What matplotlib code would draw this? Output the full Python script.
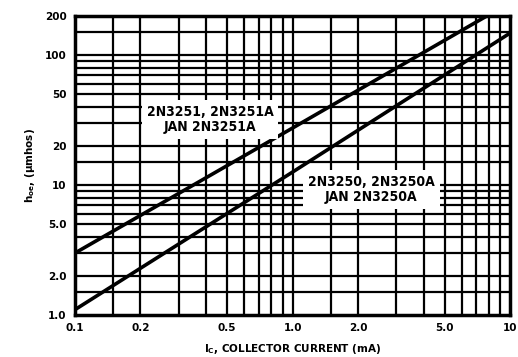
import matplotlib
matplotlib.use("Agg")
import matplotlib.pyplot as plt
from matplotlib import font_manager as fm
import numpy as np

# Data
ic_3251 = [0.1, 1.0, 7.8]
hoe_3251 = [3.0, 27.5, 200]
ic_3250 = [0.1, 1.0, 10.0]
hoe_3250 = [1.1, 12.6, 148]

label_3251 = "2N3251, 2N3251A\nJAN 2N3251A"
label_3250 = "2N3250, 2N3250A\nJAN 2N3250A"

x_ticks = [0.1, 0.2, 0.5, 1.0, 2.0, 5.0, 10]
x_tick_labels = ["0.1", "0.2", "0.5", "1.0", "2.0", "5.0", "10"]
y_ticks = [1, 2, 5, 10, 20, 50, 100, 200]
y_tick_labels = ["1.0", "2.0", "5.0", "10", "20", "50", "100", "200"]

x_grid = [0.15, 0.2, 0.3, 0.4, 0.5, 0.6, 0.7, 0.8, 0.9, 1.0, 1.5, 2, 3, 4, 5, 6, 7, 8, 9]
y_grid = [1.5, 2, 3, 4, 5, 6, 7, 8, 9, 10, 15, 20, 30, 40, 50, 60, 70, 80, 90, 100, 150]

names = {f.name for f in fm.fontManager.ttflist}
fam = "Liberation Sans Narrow" if "Liberation Sans Narrow" in names else "DejaVu Sans"
plt.rcParams['font.family'] = [fam, 'DejaVu Sans']
plt.rcParams['font.weight'] = 'bold'

fig = plt.figure(figsize=(5.18, 3.57), dpi=100)
ax = fig.add_axes([0.1448, 0.1176, 0.840, 0.8374])
ax.set_xscale('log')
ax.set_yscale('log')
ax.set_xlim(0.1, 10)
ax.set_ylim(1, 200)

for xv in x_grid:
    ax.axvline(xv, color='black', lw=1.6, zorder=1)
for yv in y_grid:
    ax.axhline(yv, color='black', lw=1.6, zorder=1)

ax.plot(ic_3251, hoe_3251, color='black', lw=2.6, zorder=3)
ax.plot(ic_3250, hoe_3250, color='black', lw=2.6, zorder=3)

ax.text(0.418, 32, label_3251, ha='center', va='center', fontsize=10, fontweight='bold',
        fontstretch='condensed', linespacing=1.1, zorder=4,
        bbox=dict(boxstyle='square,pad=0.35', facecolor='white', edgecolor='none'))
ax.text(2.3, 9.3, label_3250, ha='center', va='center', fontsize=10, fontweight='bold',
        fontstretch='condensed', linespacing=1.1, zorder=4,
        bbox=dict(boxstyle='square,pad=0.35', facecolor='white', edgecolor='none'))

ax.set_xticks(x_ticks)
ax.set_xticklabels(x_tick_labels)
ax.set_yticks(y_ticks)
ax.set_yticklabels(y_tick_labels)
ax.minorticks_off()
ax.tick_params(length=0, labelsize=7.5, pad=6)
for lab in ax.get_xticklabels() + ax.get_yticklabels():
    lab.set_fontweight('bold')

for s in ax.spines.values():
    s.set_linewidth(2.5)
    s.set_color('black')

ax.set_xlabel(r"I$_\mathregular{C}$, COLLECTOR CURRENT (mA)", fontsize=7.5, fontweight='bold', labelpad=6)
ax.set_ylabel(r"h$_\mathregular{oe}$, ($\mathregular{\mu}$mhos)", fontsize=7.5, fontweight='bold', labelpad=6)

fig.savefig("out.png", dpi=100)
